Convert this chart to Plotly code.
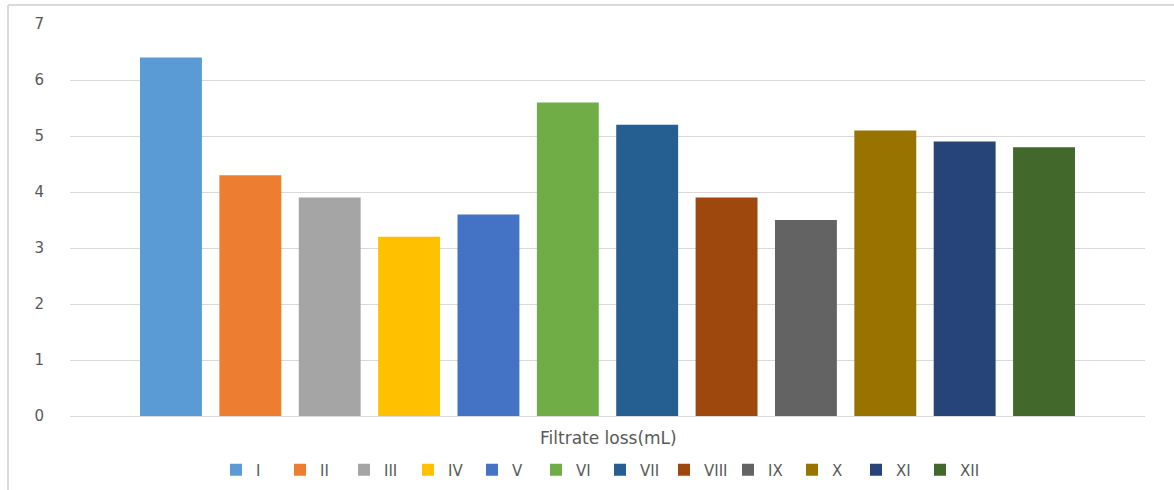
import plotly.graph_objects as go

category = ["Filtrate loss(mL)"]
series_names = ["I", "II", "III", "IV", "V", "VI", "VII", "VIII", "IX", "X", "XI", "XII"]
values = [6.4, 4.3, 3.9, 3.2, 3.6, 5.6, 5.2, 3.9, 3.5, 5.1, 4.9, 4.8]
colors = ["#5B9BD5", "#ED7D31", "#A5A5A5", "#FFC000", "#4472C4", "#70AD47",
          "#255E91", "#9E480E", "#636363", "#997300", "#264478", "#43682B"]
y_ticks = [0, 1, 2, 3, 4, 5, 6, 7]
x_title = "Filtrate loss(mL)"

fig = go.Figure()
for name, v, c in zip(series_names, values, colors):
    fig.add_trace(go.Bar(x=category, y=[v], name=name, marker=dict(color=c, line=dict(width=0))))

W, H = 1174, 490
ml, mr, mt, mb = 70, 29, 24, 74
pw, ph = W - ml - mr, H - mt - mb

def px2paper_x(px):
    return (px - ml) / pw

def px2paper_y(py):
    return (H - mb - py) / ph

border = "#D9D9D9"
shapes = [
    dict(type="line", xref="paper", yref="paper", x0=px2paper_x(8), x1=px2paper_x(W + 5),
         y0=px2paper_y(5), y1=px2paper_y(5), line=dict(color=border, width=2)),
    dict(type="line", xref="paper", yref="paper", x0=px2paper_x(8), x1=px2paper_x(8),
         y0=px2paper_y(5), y1=px2paper_y(H + 5), line=dict(color=border, width=2)),
]

font_family = "DejaVu Sans"
txt_color = "#595959"

fig.update_layout(
    width=W, height=H,
    margin=dict(l=ml, r=mr, t=mt, b=mb, autoexpand=False),
    paper_bgcolor="white", plot_bgcolor="white",
    font=dict(family=font_family, color=txt_color, size=14),
    barmode="group", bargap=0.114, bargroupgap=0.22,
    showlegend=True,
    legend=dict(orientation="h", x=px2paper_x(600), xanchor="center", y=px2paper_y(470), yanchor="middle",
                font=dict(family=font_family, size=15, color=txt_color), itemwidth=30,
                traceorder="normal", entrywidth=19, entrywidthmode="pixels"),
    xaxis=dict(showticklabels=False, ticks="", showline=False),
    yaxis=dict(range=[0, 7], tickvals=y_ticks, showgrid=True, gridcolor="#D9D9D9", gridwidth=1,
               zeroline=True, zerolinecolor="#D9D9D9", zerolinewidth=1, showline=False,
               ticks="", ticklabelstandoff=25, tickfont=dict(family=font_family, size=15, color=txt_color)),
    shapes=shapes,
    annotations=[dict(text=x_title, xref="paper", yref="paper", x=px2paper_x(608), y=px2paper_y(438),
                      xanchor="center", yanchor="middle", showarrow=False,
                      font=dict(family=font_family, size=17, color=txt_color))],
)

fig.write_html("out.html")
